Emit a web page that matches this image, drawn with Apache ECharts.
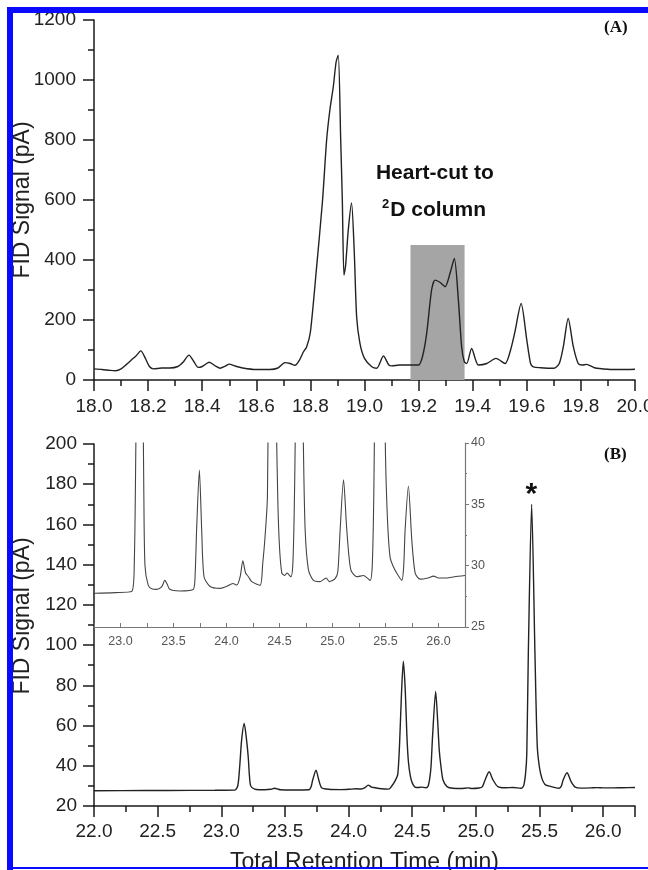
<!DOCTYPE html>
<html>
<head>
<meta charset="utf-8">
<script src="https://cdn.jsdelivr.net/npm/echarts@6/dist/echarts.min.js"></script>
<style>
  html, body { margin: 0; padding: 0; background: #fff; }
  #chart { width: 648px; height: 870px; }
</style>
</head>
<body>
<div id="chart"></div>
<script>
// Panel A: 1D chromatogram, 18-20 min
const timeA = [18.00, 18.03, 18.06, 18.08, 18.10, 18.12, 18.14, 18.155, 18.173, 18.19, 18.205, 18.22, 18.25, 18.28, 18.31, 18.33, 18.351, 18.37, 18.385, 18.40,
  18.426, 18.45, 18.466, 18.485, 18.50, 18.52, 18.55, 18.60, 18.65, 18.68, 18.706, 18.725, 18.743, 18.76, 18.775, 18.786, 18.80, 18.823, 18.845, 18.86,
  18.872, 18.885, 18.895, 18.903, 18.912, 18.918, 18.924, 18.93, 18.94, 18.952, 18.962, 18.971, 18.983, 19.00, 19.027, 19.045, 19.07, 19.09, 19.10, 19.13,
  19.17, 19.20, 19.215, 19.23, 19.248, 19.261, 19.28, 19.298, 19.316, 19.332, 19.347, 19.359, 19.369, 19.378, 19.396, 19.421, 19.452, 19.486, 19.52, 19.54,
  19.555, 19.579, 19.60, 19.614, 19.624, 19.65, 19.70, 19.72, 19.735, 19.753, 19.772, 19.79, 19.805, 19.821, 19.85, 19.90, 19.95, 20.00];
const signalA = [37, 35, 32, 31, 37, 52, 68, 80, 97, 72, 45, 37, 40, 40, 45, 60, 83, 60, 42, 45,
  59, 46, 39, 46, 53, 47, 40, 35, 35, 40, 58, 55, 49, 67, 95, 110, 160, 377, 600, 800,
  900, 980, 1060, 1083, 800, 600, 350, 380, 500, 590, 430, 210, 123, 72, 44, 39, 80, 50, 47, 50,
  50, 50, 80, 156, 300, 333, 325, 311, 355, 405, 267, 111, 61, 55, 105, 50, 55, 72, 55, 100,
  156, 255, 133, 55, 44, 41, 39, 55, 111, 205, 111, 55, 50, 52, 41, 36, 35, 36];

// Panel B: 2D chromatogram (also used for the inset)
const timeB = [22.00, 22.40, 22.76, 22.95, 23.106, 23.13, 23.145, 23.16, 23.18, 23.20, 23.212, 23.22, 23.231, 23.262, 23.30, 23.34, 23.39, 23.418, 23.44, 23.465,
  23.56, 23.687, 23.705, 23.718, 23.744, 23.766, 23.788, 23.845, 23.94, 24.00, 24.06, 24.098, 24.129, 24.154, 24.18, 24.207, 24.238, 24.317, 24.342, 24.364,
  24.386, 24.40, 24.415, 24.43, 24.445, 24.458, 24.47, 24.485, 24.50, 24.522, 24.55, 24.57, 24.607, 24.625, 24.638, 24.648, 24.66, 24.684, 24.70, 24.712,
  24.725, 24.742, 24.773, 24.82, 24.883, 24.94, 24.97, 25.025, 25.05, 25.072, 25.104, 25.135, 25.173, 25.23, 25.292, 25.355, 25.375, 25.39, 25.40, 25.412,
  25.438, 25.464, 25.482, 25.50, 25.52, 25.543, 25.57, 25.606, 25.654, 25.672, 25.685, 25.716, 25.748, 25.78, 25.827, 25.90, 25.953, 26.00, 26.078, 26.15,
  26.25];
const signalB = [27.6, 27.7, 27.75, 27.8, 27.9, 30.2, 40, 53, 61, 52, 44, 36, 30, 28.4, 28.1, 28.07, 28.3, 28.8, 28.5, 28.07,
  27.94, 28.07, 29.5, 32.9, 37.8, 32.9, 29.1, 28.3, 28.15, 28.3, 28.55, 28.42, 29.1, 30.4, 29.4, 29.1, 28.7, 28.4, 30.2, 32.4,
  35.6, 50, 75, 92, 78, 55, 42, 35, 31.5, 29.4, 29.2, 29.4, 29.1, 30, 34, 40, 55, 77, 62, 48,
  40, 32.9, 29.65, 28.8, 28.7, 29.0, 28.7, 28.95, 29.5, 32.9, 37.0, 32.9, 29.65, 29.1, 29.2, 28.8, 30, 36, 46, 96,
  170, 96, 50, 39, 33.5, 30.7, 30, 29.4, 28.8, 30, 32.9, 36.5, 32.1, 29.4, 28.9, 29.0, 29.15, 29.0, 29.0, 29.1,
  29.2];

// heart-cut window (min) and its height (pA)
const cutWindow = [19.17, 19.37];
const cutHeight = 450;

const FONT = 'Liberation Sans';
const INK = '#1a1a1a';

const chart = echarts.init(document.getElementById('chart'));

const pairs = (xs, ys) => xs.map((x, i) => [x, ys[i]]);
const oneDecimal = v => (Math.abs(v * 2 - Math.round(v * 2)) < 1e-6 ? v.toFixed(1) : '');
const plain = v => String(v);

const mainLabel = { fontFamily: FONT, fontSize: 19, color: '#222' };
const yName = { fontFamily: FONT, fontSize: 23, color: '#222' };

const option = {
  animation: false,
  backgroundColor: '#fff',
  grid: [
    { left: 94, top: 20, width: 541, height: 360, outerBoundsMode: 'none' },
    { left: 94, top: 444, width: 541, height: 362, outerBoundsMode: 'none' },
    { left: 94, top: 443, width: 371, height: 184, outerBoundsMode: 'none' }
  ],
  xAxis: [
    {
      gridIndex: 0, type: 'value', min: 18, max: 20, interval: 0.2,
      axisLine: { lineStyle: { color: INK, width: 1.5 } },
      axisTick: { length: 11, lineStyle: { color: INK, width: 1.5 } },
      minorTick: { show: true, splitNumber: 2, length: 6, lineStyle: { color: INK, width: 1.5 } },
      splitLine: { show: false },
      axisLabel: Object.assign({ margin: 17, formatter: v => v.toFixed(1) }, mainLabel)
    },
    {
      gridIndex: 1, type: 'value', min: 22, max: 26.25, interval: 0.5,
      name: 'Total Retention Time (min)', nameLocation: 'middle', nameGap: 45, nameMoveOverlap: false,
      nameTextStyle: { fontFamily: FONT, fontSize: 23, color: '#222' },
      axisLine: { lineStyle: { color: INK, width: 1.5 } },
      axisTick: { length: 11, lineStyle: { color: INK, width: 1.5 } },
      minorTick: { show: true, splitNumber: 2, length: 6, lineStyle: { color: INK, width: 1.5 } },
      splitLine: { show: false },
      axisLabel: Object.assign({ margin: 16, formatter: oneDecimal }, mainLabel)
    },
    {
      gridIndex: 2, type: 'value', min: 22.75, max: 26.25, interval: 0.25,
      axisLine: { lineStyle: { color: '#777', width: 1.2 } },
      axisTick: { inside: true, length: 4, lineStyle: { color: '#777' } },
      splitLine: { show: false },
      axisLabel: { margin: 8, fontFamily: FONT, fontSize: 12.5, color: '#555', formatter: oneDecimal }
    }
  ],
  yAxis: [
    {
      gridIndex: 0, type: 'value', min: 0, max: 1200, interval: 200,
      name: 'FID Signal (pA)', nameLocation: 'middle', nameGap: 60, nameMoveOverlap: false,
      nameTextStyle: yName,
      axisLine: { show: true, lineStyle: { color: INK, width: 1.5 } },
      axisTick: { show: true, length: 11, lineStyle: { color: INK, width: 1.5 } },
      minorTick: { show: true, splitNumber: 2, length: 6, lineStyle: { color: INK, width: 1.5 } },
      splitLine: { show: false },
      axisLabel: Object.assign({ margin: 18, formatter: plain }, mainLabel)
    },
    {
      gridIndex: 1, type: 'value', min: 20, max: 200, interval: 20,
      name: 'FID Signal (pA)', nameLocation: 'middle', nameGap: 60, nameMoveOverlap: false,
      nameTextStyle: Object.assign({ padding: [0, 0, 0, 18] }, yName),
      axisLine: { show: true, lineStyle: { color: INK, width: 1.5 } },
      axisTick: { show: true, length: 11, lineStyle: { color: INK, width: 1.5 } },
      minorTick: { show: true, splitNumber: 2, length: 6, lineStyle: { color: INK, width: 1.5 } },
      splitLine: { show: false },
      axisLabel: Object.assign({ margin: 17, formatter: plain }, mainLabel)
    },
    {
      gridIndex: 2, type: 'value', position: 'right', min: 25, max: 40, interval: 5,
      axisLine: { show: true, lineStyle: { color: '#777', width: 1.2 } },
      axisTick: { show: true, length: 4, lineStyle: { color: '#777' } },
      minorTick: { show: true, splitNumber: 2, length: 2, lineStyle: { color: '#777' } },
      splitLine: { show: false },
      axisLabel: { margin: 6, fontFamily: FONT, fontSize: 12.5, color: '#555' }
    }
  ],
  series: [
    {
      name: 'cut', type: 'line', xAxisIndex: 0, yAxisIndex: 0, data: [], z: 1,
      markArea: {
        silent: true,
        itemStyle: { color: '#a5a5a5' },
        data: [[{ xAxis: cutWindow[0], yAxis: 0 }, { xAxis: cutWindow[1], yAxis: cutHeight }]]
      }
    },
    {
      name: 'A', type: 'line', xAxisIndex: 0, yAxisIndex: 0, z: 3,
      data: pairs(timeA, signalA),
      showSymbol: false, symbol: 'none',
      smooth: 0.25,
      lineStyle: { color: '#222', width: 1.4 },
      markPoint: {
        symbol: 'circle', symbolSize: 1, itemStyle: { color: 'rgba(0,0,0,0)' }, silent: true,
        label: { show: true, position: 'inside', color: '#111', fontFamily: FONT, fontWeight: 'bold', fontSize: 21 },
        data: [
          { coord: [19.26, 690], label: { formatter: 'Heart-cut to' } },
          {
            coord: [19.257, 565],
            label: {
              formatter: '{s|2}{m|D column}',
              rich: {
                s: { fontFamily: FONT, fontWeight: 'bold', fontSize: 13, color: '#111', padding: [0, 1, 12, 0] },
                m: { fontFamily: FONT, fontWeight: 'bold', fontSize: 21, color: '#111' }
              }
            }
          }
        ]
      }
    },
    {
      name: 'B', type: 'line', xAxisIndex: 1, yAxisIndex: 1, z: 3,
      data: pairs(timeB, signalB),
      showSymbol: false, symbol: 'none',
      smooth: 0.25,
      lineStyle: { color: '#222', width: 1.4 },
      markPoint: {
        symbol: 'circle', symbolSize: 1, itemStyle: { color: 'rgba(0,0,0,0)' }, silent: true,
        label: { show: true, position: 'inside', color: '#111', fontFamily: FONT, fontWeight: 'bold', fontSize: 30 },
        data: [{ coord: [25.435, 175], label: { formatter: '*' } }]
      }
    },
    {
      name: 'B inset', type: 'line', xAxisIndex: 2, yAxisIndex: 2, z: 3,
      data: pairs(timeB, signalB),
      showSymbol: false, symbol: 'none', clip: true,
      smooth: 0.25,
      lineStyle: { color: '#444', width: 1.1 }
    }
  ],
  graphic: [
    { type: 'text', left: 604, top: 19, z: 10, style: { text: '(A)', fill: '#111', font: 'bold 17px "Liberation Serif"' } },
    { type: 'text', left: 604, top: 446, z: 10, style: { text: '(B)', fill: '#111', font: 'bold 17px "Liberation Serif"' } },
    // blue figure frame
    { type: 'rect', z: 100, shape: { x: 7, y: 7, width: 641, height: 6 }, style: { fill: '#0a0aff' } },
    { type: 'rect', z: 100, shape: { x: 7, y: 7, width: 6, height: 863 }, style: { fill: '#0a0aff' } },
    { type: 'rect', z: 100, shape: { x: 7, y: 867, width: 641, height: 2 }, style: { fill: '#0a0aff' } }
  ]
};

chart.setOption(option);
window.addEventListener('resize', () => chart.resize());
</script>
</body>
</html>
